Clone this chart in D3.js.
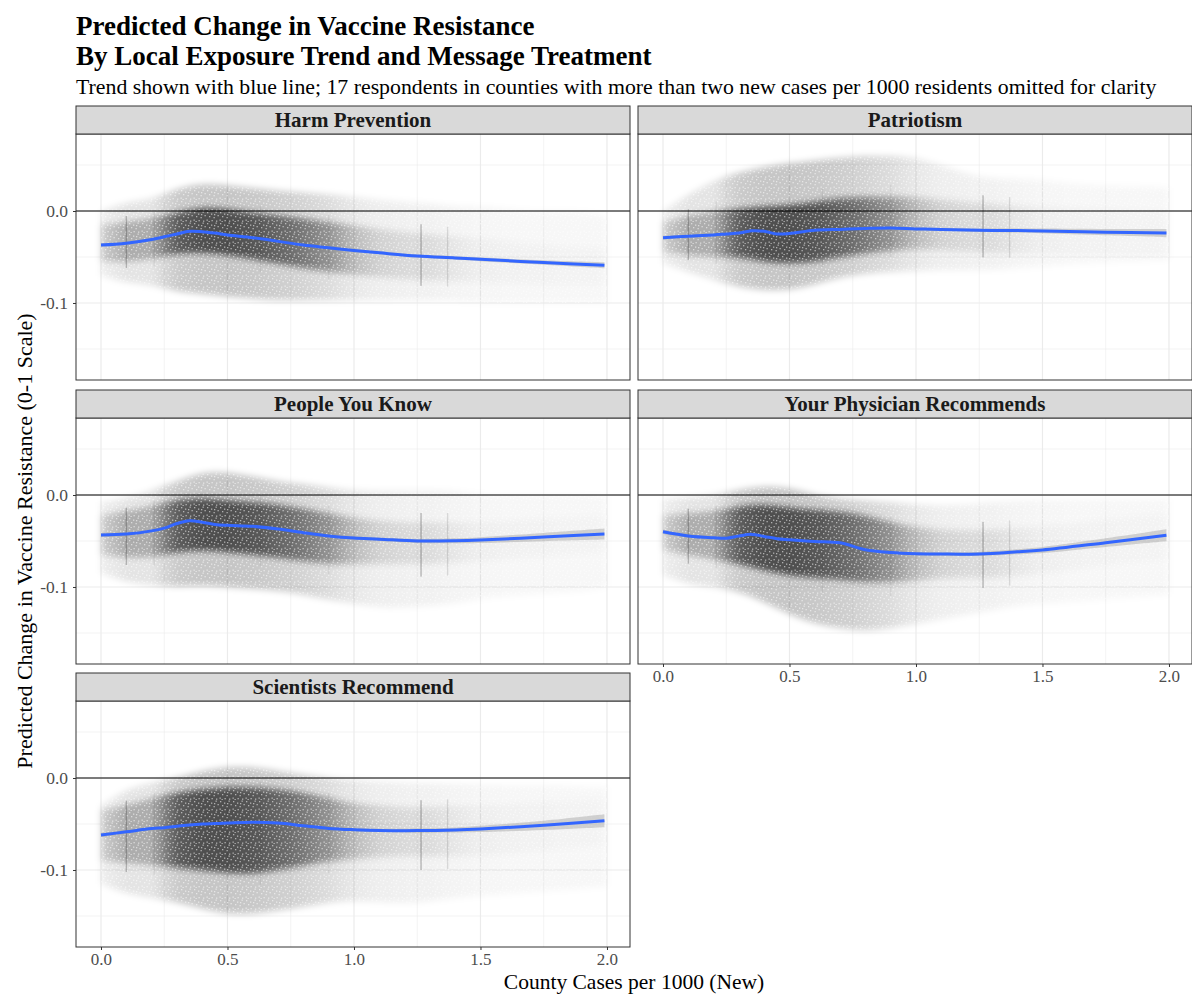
<!DOCTYPE html>
<html>
  <head>
    <meta charset="utf-8">
    <script src="https://d3js.org/d3.v7.min.js"></script>
    <style>
      body {
        margin: 0;
        background: #fff;
      }
      svg text {
        font-family: "Liberation Serif", "Times New Roman", serif;
      }
    </style>
  </head>
<body>
  <script type="text/javascript">
    "use strict";

    /*
      Data
    */
    var panelNames = ["Harm Prevention", "Patriotism", "People You Know",
                      "Your Physician Recommends", "Scientists Recommend"];

    // point cloud summarised per 0.1 bin of county cases
    var binX = [0.0, 0.1, 0.2, 0.3, 0.4, 0.5, 0.6, 0.7, 0.8, 0.9, 1.0,
                1.1, 1.2, 1.3, 1.4, 1.5, 1.6, 1.7, 1.8, 1.9, 2.0];
    var binShare = [0.22, 0.4, 0.4, 0.9, 1.0, 1.0, 0.95, 0.85, 0.72, 0.55, 0.32,
                    0.2, 0.16, 0.15, 0.09, 0.05, 0.04, 0.035, 0.03, 0.03, 0.02];

    var harmOuterHi = [0.0, 0.01, 0.012, 0.025, 0.03, 0.028, 0.025, 0.022, 0.02, 0.018, 0.015,
                       0.012, 0.01, 0.008, 0.005, 0.005, 0.003, 0.0, 0.0, 0.0, -0.005];
    var harmCoreHi = [-0.015, -0.012, -0.008, -0.002, 0.004, 0.002, -0.002, -0.005, -0.008, -0.012, -0.016,
                      -0.02, -0.023, -0.025, -0.028, -0.03, -0.032, -0.035, -0.037, -0.039, -0.04];
    var harmCoreLo = [-0.055, -0.055, -0.052, -0.046, -0.045, -0.048, -0.052, -0.057, -0.062, -0.066, -0.069,
                      -0.072, -0.074, -0.075, -0.076, -0.077, -0.078, -0.079, -0.08, -0.08, -0.08];
    var harmOuterLo = [-0.07, -0.078, -0.08, -0.088, -0.09, -0.093, -0.095, -0.097, -0.097, -0.097, -0.097,
                       -0.097, -0.097, -0.097, -0.097, -0.1, -0.1, -0.1, -0.1, -0.1, -0.1];

    var patriotOuterHi = [0.0, 0.018, 0.033, 0.042, 0.048, 0.052, 0.055, 0.058, 0.06, 0.06, 0.058,
                          0.05, 0.04, 0.035, 0.035, 0.034, 0.03, 0.028, 0.027, 0.027, 0.025];
    var patriotCoreHi = [-0.012, -0.005, 0.0, 0.002, 0.005, 0.006, 0.01, 0.014, 0.015, 0.015, 0.015,
                         0.012, 0.01, 0.008, 0.006, 0.005, 0.004, 0.003, 0.002, 0.001, 0.0];
    var patriotCoreLo = [-0.045, -0.048, -0.05, -0.05, -0.055, -0.057, -0.055, -0.05, -0.046, -0.043, -0.041,
                         -0.042, -0.044, -0.045, -0.046, -0.046, -0.047, -0.048, -0.048, -0.048, -0.048];
    var patriotOuterLo = [-0.057, -0.066, -0.075, -0.083, -0.086, -0.086, -0.08, -0.072, -0.068, -0.066, -0.065,
                          -0.064, -0.064, -0.064, -0.062, -0.06, -0.058, -0.056, -0.055, -0.054, -0.053];

    var peopleOuterHi = [-0.008, -0.004, 0.005, 0.015, 0.025, 0.025, 0.02, 0.015, 0.012, 0.008, 0.005,
                         0.005, 0.005, 0.005, 0.005, 0.0, 0.0, 0.0, 0.0, 0.0, -0.002];
    var peopleCoreHi = [-0.022, -0.018, -0.012, -0.005, -0.003, -0.006, -0.008, -0.01, -0.015, -0.02, -0.025,
                        -0.028, -0.03, -0.03, -0.03, -0.03, -0.028, -0.026, -0.025, -0.023, -0.022];
    var peopleCoreLo = [-0.065, -0.068, -0.068, -0.062, -0.06, -0.062, -0.065, -0.068, -0.072, -0.075, -0.075,
                        -0.075, -0.075, -0.075, -0.074, -0.072, -0.07, -0.068, -0.066, -0.064, -0.062];
    var peopleOuterLo = [-0.085, -0.095, -0.098, -0.1, -0.098, -0.1, -0.102, -0.104, -0.108, -0.114, -0.118,
                         -0.122, -0.122, -0.12, -0.118, -0.112, -0.11, -0.108, -0.106, -0.105, -0.1];

    var physicianOuterHi = [-0.005, -0.003, 0.0, 0.006, 0.01, 0.008, 0.0, -0.004, -0.006, -0.008, -0.01,
                            -0.012, -0.01, -0.008, -0.006, -0.005, -0.005, -0.005, -0.005, -0.005, -0.005];
    var physicianCoreHi = [-0.022, -0.02, -0.018, -0.012, -0.01, -0.014, -0.016, -0.018, -0.022, -0.03, -0.035,
                           -0.038, -0.038, -0.038, -0.036, -0.034, -0.032, -0.028, -0.025, -0.022, -0.02];
    var physicianCoreLo = [-0.06, -0.065, -0.07, -0.075, -0.082, -0.088, -0.09, -0.092, -0.095, -0.095, -0.093,
                           -0.09, -0.09, -0.09, -0.088, -0.086, -0.082, -0.078, -0.075, -0.072, -0.07];
    var physicianOuterLo = [-0.087, -0.097, -0.1, -0.105, -0.116, -0.13, -0.14, -0.145, -0.148, -0.145, -0.14,
                            -0.135, -0.13, -0.125, -0.12, -0.118, -0.116, -0.114, -0.112, -0.11, -0.108];

    var scientistOuterHi = [-0.03, -0.012, -0.005, 0.0, 0.008, 0.012, 0.012, 0.008, 0.004, 0.0, -0.002,
                            -0.004, -0.005, -0.006, -0.006, -0.007, -0.008, -0.008, -0.008, -0.01, -0.01];
    var scientistCoreHi = [-0.035, -0.03, -0.022, -0.016, -0.012, -0.01, -0.01, -0.012, -0.016, -0.022, -0.028,
                           -0.03, -0.032, -0.032, -0.03, -0.03, -0.028, -0.026, -0.025, -0.024, -0.022];
    var scientistCoreLo = [-0.09, -0.092, -0.095, -0.097, -0.1, -0.103, -0.104, -0.1, -0.095, -0.09, -0.088,
                           -0.086, -0.085, -0.085, -0.085, -0.085, -0.083, -0.08, -0.078, -0.075, -0.073];
    var scientistOuterLo = [-0.115, -0.126, -0.13, -0.135, -0.142, -0.148, -0.148, -0.144, -0.14, -0.135, -0.133,
                            -0.135, -0.136, -0.134, -0.13, -0.128, -0.126, -0.124, -0.122, -0.12, -0.118];

    // columns of respondents sharing one county value
    var stripeX = [0.1, 0.21, 0.63, 0.9, 1.265, 1.37];
    var stripeWeight = [0.5, 0.15, 0.12, 0.12, 0.55, 0.25];

    // loess trend and its confidence half-width
    var trendX = [0, 0.1, 0.2, 0.25, 0.3, 0.35, 0.4, 0.45, 0.5, 0.6,
                  0.7, 0.8, 0.9, 1.0, 1.1, 1.25, 1.4, 1.5, 1.75, 1.99];
    var harmTrend = [-0.037, -0.035, -0.031, -0.028, -0.025, -0.022, -0.0225, -0.024, -0.026, -0.029,
                     -0.033, -0.037, -0.040, -0.043, -0.0455, -0.049, -0.051, -0.0525, -0.056, -0.059];
    var patriotTrend = [-0.029, -0.0275, -0.026, -0.025, -0.024, -0.0215, -0.022, -0.025, -0.0245, -0.021,
                        -0.020, -0.019, -0.0185, -0.0195, -0.020, -0.021, -0.0213, -0.0217, -0.023, -0.024];
    var peopleTrend = [-0.0435, -0.0425, -0.039, -0.036, -0.031, -0.028, -0.0295, -0.032, -0.033, -0.034,
                       -0.037, -0.041, -0.0445, -0.0468, -0.048, -0.050, -0.0498, -0.049, -0.0457, -0.0425];
    var physicianTrend = [-0.040, -0.0445, -0.0465, -0.047, -0.0445, -0.0428, -0.045, -0.0475, -0.0486, -0.0505,
                          -0.052, -0.0595, -0.0625, -0.0638, -0.0642, -0.0641, -0.0618, -0.0598, -0.0518, -0.0438];
    var scientistTrend = [-0.062, -0.0585, -0.055, -0.054, -0.0525, -0.051, -0.050, -0.0495, -0.049, -0.048,
                          -0.049, -0.052, -0.0548, -0.0562, -0.057, -0.0572, -0.0565, -0.0554, -0.0514, -0.0464];

    var harmBand = [0.002, 0.0015, 0.0012, 0.001, 0.001, 0.001, 0.001, 0.001, 0.001, 0.001,
                    0.001, 0.001, 0.0012, 0.0012, 0.0014, 0.0016, 0.0018, 0.002, 0.0025, 0.0033];
    var patriotBand = [0.002, 0.0015, 0.0012, 0.001, 0.001, 0.001, 0.001, 0.001, 0.001, 0.001,
                       0.001, 0.001, 0.0012, 0.0013, 0.0015, 0.0018, 0.0022, 0.0026, 0.0034, 0.0045];
    var peopleBand = [0.0025, 0.0018, 0.0014, 0.0012, 0.0012, 0.0012, 0.0012, 0.0012, 0.0012, 0.0012,
                      0.0012, 0.0012, 0.0014, 0.0016, 0.0018, 0.0022, 0.0027, 0.0032, 0.0045, 0.006];
    var physicianBand = [0.0025, 0.0018, 0.0014, 0.0012, 0.0012, 0.0012, 0.0012, 0.0012, 0.0012, 0.0012,
                         0.0012, 0.0012, 0.0014, 0.0016, 0.0018, 0.0022, 0.0027, 0.0033, 0.0047, 0.0065];
    var scientistBand = [0.0025, 0.0018, 0.0014, 0.0012, 0.0012, 0.0012, 0.0012, 0.0012, 0.0012, 0.0012,
                         0.0012, 0.0012, 0.0014, 0.0016, 0.0018, 0.0022, 0.0028, 0.0034, 0.005, 0.007];

    var xTicks = [0, 0.5, 1, 1.5, 2];
    var xMinor = [0.25, 0.75, 1.25, 1.75];
    var yTicks = [-0.1, 0.0];
    var yMinor = [-0.15, -0.05, 0.05];

    var panels = [
      {name: panelNames[0], oh: harmOuterHi, ch: harmCoreHi, cl: harmCoreLo, ol: harmOuterLo, trend: harmTrend, band: harmBand},
      {name: panelNames[1], oh: patriotOuterHi, ch: patriotCoreHi, cl: patriotCoreLo, ol: patriotOuterLo, trend: patriotTrend, band: patriotBand},
      {name: panelNames[2], oh: peopleOuterHi, ch: peopleCoreHi, cl: peopleCoreLo, ol: peopleOuterLo, trend: peopleTrend, band: peopleBand},
      {name: panelNames[3], oh: physicianOuterHi, ch: physicianCoreHi, cl: physicianCoreLo, ol: physicianOuterLo, trend: physicianTrend, band: physicianBand},
      {name: panelNames[4], oh: scientistOuterHi, ch: scientistCoreHi, cl: scientistCoreLo, ol: scientistOuterLo, trend: scientistTrend, band: scientistBand}
    ];

    /*
      Layout
    */
    var width = 1192, height = 994;
    var colLeft = [76, 638], rowTop = [134, 418, 701];
    var panelW = 554, panelH = 246, stripH = 28;

    var svg = d3.select("body")
        .append("svg")
        .attr("width", width)
        .attr("height", height);
    var defs = svg.append("defs");

    defs.append("filter").attr("id", "soft")
        .attr("x", "-5%").attr("y", "-20%").attr("width", "110%").attr("height", "140%")
        .append("feGaussianBlur").attr("stdDeviation", 3);

    // white speckles to break the cloud into dots
    var speck = defs.append("pattern").attr("id", "speck")
        .attr("patternUnits", "userSpaceOnUse")
        .attr("width", 13).attr("height", 11);
    [[1, 1], [5, 2.5], [9.5, 0.5], [3, 5], [7.5, 6], [11.5, 4],
     [0.5, 8.5], [5.5, 9], [10, 9.5], [8, 3], [2.5, 10]].forEach(function(p) {
      speck.append("rect").attr("x", p[0]).attr("y", p[1])
          .attr("width", 1.3).attr("height", 1.3)
          .attr("fill", "#fff").attr("opacity", 0.55);
    });

    var x = d3.scaleLinear().domain([-0.0988, 2.091]).range([0, panelW]);
    var y = d3.scaleLinear().domain([-0.1837, 0.0837]).range([panelH, 0]);
    var fmt = function(d) { return d.toFixed(1); };

    /*
      Titles
    */
    svg.append("text").attr("x", 76).attr("y", 35)
        .attr("font-size", 27).attr("font-weight", "bold")
        .text("Predicted Change in Vaccine Resistance");
    svg.append("text").attr("x", 76).attr("y", 65)
        .attr("font-size", 27).attr("font-weight", "bold")
        .text("By Local Exposure Trend and Message Treatment");
    svg.append("text").attr("x", 76).attr("y", 94)
        .attr("font-size", 21.8)
        .text("Trend shown with blue line; 17 respondents in counties with more than two new cases per 1000 residents omitted for clarity");

    svg.append("text")
        .attr("transform", "translate(32," + 541 + ") rotate(-90)")
        .attr("text-anchor", "middle")
        .attr("font-size", 22)
        .text("Predicted Change in Vaccine Resistance (0-1 Scale)");
    svg.append("text")
        .attr("x", 634).attr("y", 988.5)
        .attr("text-anchor", "middle")
        .attr("font-size", 21.5)
        .text("County Cases per 1000 (New)");

    /*
      Panels
    */
    panels.forEach(function(p, i) {
      var row = Math.floor(i / 2), col = i % 2;
      var g = svg.append("g")
          .attr("transform", "translate(" + colLeft[col] + "," + rowTop[row] + ")");

      g.append("rect").attr("width", panelW).attr("height", panelH).attr("fill", "#fff");

      // grid
      g.selectAll(".vmin").data(xMinor).enter().append("line")
          .attr("x1", x).attr("x2", x).attr("y1", 0).attr("y2", panelH)
          .attr("stroke", "#EBEBEB").attr("stroke-width", 0.6);
      g.selectAll(".hmin").data(yMinor).enter().append("line")
          .attr("y1", y).attr("y2", y).attr("x1", 0).attr("x2", panelW)
          .attr("stroke", "#EBEBEB").attr("stroke-width", 0.6);
      g.selectAll(".vmaj").data(xTicks).enter().append("line")
          .attr("x1", x).attr("x2", x).attr("y1", 0).attr("y2", panelH)
          .attr("stroke", "#EBEBEB").attr("stroke-width", 1.2);
      g.selectAll(".hmaj").data(yTicks).enter().append("line")
          .attr("y1", y).attr("y2", y).attr("x1", 0).attr("x2", panelW)
          .attr("stroke", "#EBEBEB").attr("stroke-width", 1.2);

      // cloud density gradients
      var gOuter = defs.append("linearGradient").attr("id", "outer" + i)
          .attr("gradientUnits", "userSpaceOnUse")
          .attr("x1", x(0)).attr("x2", x(2)).attr("y1", 0).attr("y2", 0);
      var gCore = defs.append("linearGradient").attr("id", "core" + i)
          .attr("gradientUnits", "userSpaceOnUse")
          .attr("x1", x(0)).attr("x2", x(2)).attr("y1", 0).attr("y2", 0);
      binX.forEach(function(b, k) {
        gOuter.append("stop").attr("offset", b / 2)
            .attr("stop-color", "#000").attr("stop-opacity", 0.025 + 0.2 * binShare[k]);
        gCore.append("stop").attr("offset", b / 2)
            .attr("stop-color", "#000").attr("stop-opacity", 0.6 * binShare[k]);
      });

      var rows = binX.map(function(b, k) {
        return {x: b, oh: p.oh[k], ch: p.ch[k], cl: p.cl[k], ol: p.ol[k]};
      });
      var outerArea = d3.area().curve(d3.curveBasis)
          .x(function(d) { return x(d.x); })
          .y0(function(d) { return y(d.ol); })
          .y1(function(d) { return y(d.oh); });
      var coreArea = d3.area().curve(d3.curveBasis)
          .x(function(d) { return x(d.x); })
          .y0(function(d) { return y(d.cl); })
          .y1(function(d) { return y(d.ch); });

      var cloud = g.append("g").attr("filter", "url(#soft)");
      cloud.append("path").datum(rows).attr("d", outerArea).attr("fill", "url(#outer" + i + ")");
      cloud.append("path").datum(rows).attr("d", coreArea).attr("fill", "url(#core" + i + ")");
      g.append("path").datum(rows).attr("d", outerArea).attr("fill", "url(#speck)");

      // vertical stripes
      var hiAt = d3.scaleLinear().domain(binX).range(binX.map(function(b, k) { return 0.7 * p.ch[k] + 0.3 * p.oh[k]; }));
      var loAt = d3.scaleLinear().domain(binX).range(binX.map(function(b, k) { return 0.7 * p.cl[k] + 0.3 * p.ol[k]; }));
      g.selectAll(".stripe").data(stripeX).enter().append("rect")
          .attr("x", function(d) { return x(d) - 0.7; })
          .attr("width", 1.4)
          .attr("y", function(d) { return y(hiAt(d)); })
          .attr("height", function(d) { return y(loAt(d)) - y(hiAt(d)); })
          .attr("fill", "#000")
          .attr("opacity", function(d, k) { return 0.45 * stripeWeight[k]; });

      // zero line
      g.append("line").attr("x1", 0).attr("x2", panelW)
          .attr("y1", y(0)).attr("y2", y(0))
          .attr("stroke", "#000").attr("stroke-width", 1);

      // trend + band
      var tr = trendX.map(function(t, k) { return {x: t, v: p.trend[k], s: p.band[k]}; });
      g.append("path").datum(tr)
          .attr("d", d3.area().curve(d3.curveCatmullRom)
              .x(function(d) { return x(d.x); })
              .y0(function(d) { return y(d.v - d.s); })
              .y1(function(d) { return y(d.v + d.s); }))
          .attr("fill", "#999").attr("opacity", 0.4);
      g.append("path").datum(tr)
          .attr("d", d3.line().curve(d3.curveCatmullRom)
              .x(function(d) { return x(d.x); })
              .y(function(d) { return y(d.v); }))
          .attr("fill", "none").attr("stroke", "#3366FF").attr("stroke-width", 3);

      // border
      g.append("rect").attr("width", panelW).attr("height", panelH)
          .attr("fill", "none").attr("stroke", "#333").attr("stroke-width", 1);

      // strip
      g.append("rect").attr("y", -stripH).attr("width", panelW).attr("height", stripH)
          .attr("fill", "#D9D9D9").attr("stroke", "#333").attr("stroke-width", 1);
      g.append("text").attr("x", panelW / 2).attr("y", -7)
          .attr("text-anchor", "middle").attr("font-size", 21).attr("font-weight", "bold")
          .attr("fill", "#1A1A1A")
          .text(p.name);

      // axes
      if (col === 0) {
        var ay = g.append("g").call(d3.axisLeft(y).tickValues(yTicks).tickFormat(fmt).tickSize(3).tickPadding(5));
        ay.select(".domain").remove();
        ay.selectAll("line").attr("stroke", "#333");
        ay.selectAll("text").attr("font-size", 17.5).attr("fill", "#4D4D4D")
            .style("font-family", "'Liberation Serif', serif");
      }
      if (i === 3 || i === 4) {
        var ax = g.append("g").attr("transform", "translate(0," + panelH + ")")
            .call(d3.axisBottom(x).tickValues(xTicks).tickFormat(fmt).tickSize(3).tickPadding(3));
        ax.select(".domain").remove();
        ax.selectAll("line").attr("stroke", "#333");
        ax.selectAll("text").attr("font-size", 17).attr("fill", "#4D4D4D")
            .style("font-family", "'Liberation Serif', serif");
      }
    });
  </script>
</body>
</html>
